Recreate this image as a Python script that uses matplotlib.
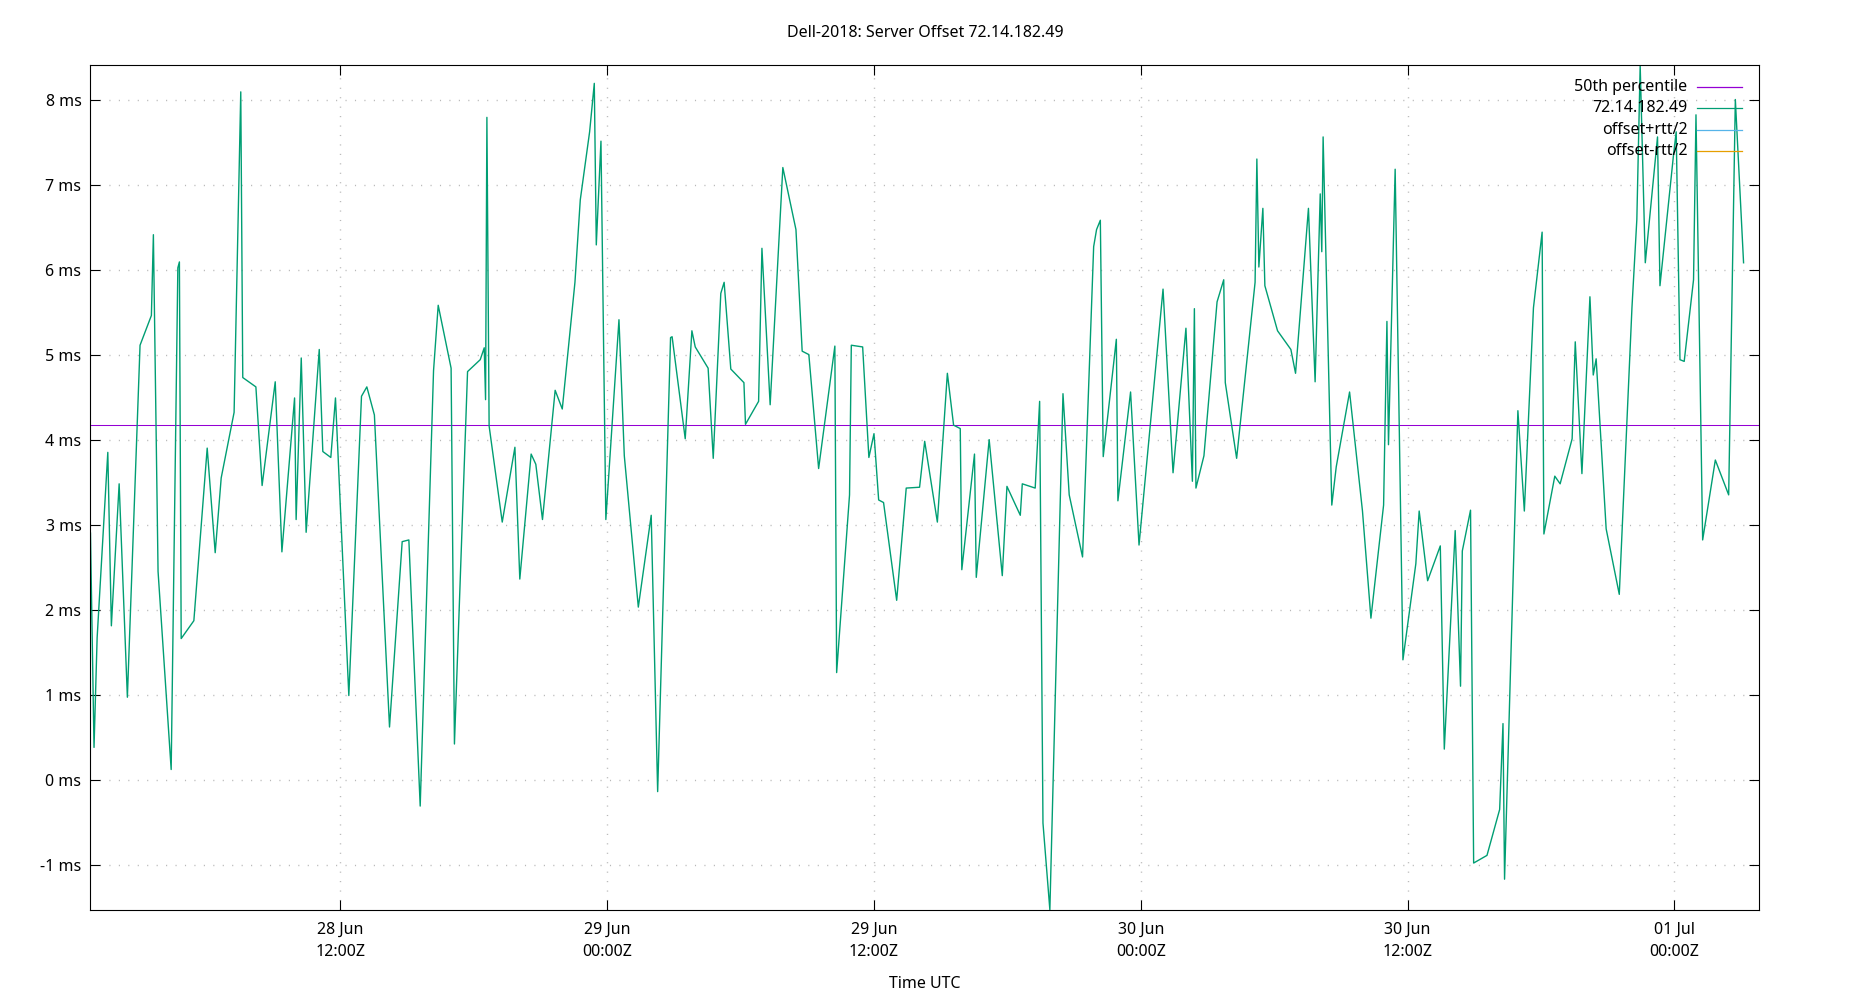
import matplotlib
matplotlib.use('Agg')
import matplotlib.pyplot as plt
import numpy as np
import pandas as pd

plt.rcParams['font.family'] = ['Noto Sans', 'DejaVu Sans']
plt.rcParams['font.size'] = 11.5

# hours after 28 Jun 00:00 UTC, offset in ms
hours = [
    0.76, 0.92, 1.06, 1.54, 1.70, 2.05, 2.42, 2.99, 3.50, 3.59, 3.80, 4.39, 4.69, 4.76,
    4.84, 5.41, 6.01, 6.37, 6.64, 7.22, 7.52, 7.61, 8.20, 8.48, 9.07, 9.37, 9.94, 10.01,
    10.24, 10.46, 11.05, 11.21, 11.57, 11.78, 12.38, 12.95, 13.19, 13.53,
    14.21, 14.78, 15.08, 15.59, 16.19, 16.40, 16.98, 17.13, 17.72, 18.29, 18.47, 18.53,
    18.59, 18.69, 19.28, 19.85, 20.07, 20.58, 20.79, 21.09, 21.66, 21.98, 22.55, 22.79,
    23.21, 23.42, 23.51, 23.72, 23.94, 24.53, 24.77, 25.40, 25.98, 26.27,
    26.85, 26.92, 27.51, 27.81, 27.96, 28.54, 28.77, 29.11, 29.26, 29.56, 30.15, 30.22,
    30.81, 30.96, 31.33, 31.90, 32.49, 32.77, 33.07, 33.51, 34.24, 34.32, 34.90, 34.98,
    35.49, 35.77, 36.00, 36.21, 36.43, 37.02, 37.45, 38.05, 38.28, 38.85, 39.30, 39.58,
    39.88, 39.95, 40.52, 40.60, 41.18, 41.77, 41.98, 42.58, 42.67, 43.25, 43.45, 43.60,
    43.91, 44.50, 44.78, 45.38, 45.88, 46.01, 46.18, 46.31, 46.90, 46.97, 47.54, 47.92,
    49.00, 49.45, 50.03, 50.32, 50.41, 50.48, 50.84, 51.43, 51.73, 51.80, 52.31,
    53.14, 53.22, 53.31, 53.49, 53.58, 54.15, 54.75, 54.96, 55.54, 55.84, 56.07, 56.14,
    56.20, 56.59, 56.79, 57.39, 57.97, 58.35, 58.92, 59.07, 59.14, 59.44, 59.79, 60.37,
    60.52, 60.90, 61.47, 61.65, 62.14, 62.38, 62.46, 62.83, 62.97, 63.57, 64.14, 64.29,
    64.36, 64.96, 65.25,
    65.66, 66.05, 66.13, 66.62, 66.86, 67.40, 67.54, 67.84, 68.20, 68.35, 68.48, 68.93,
    69.52, 70.09, 70.31, 70.46, 70.69, 71.24, 71.35, 71.96, 72.08, 72.25, 72.44, 72.86,
    72.97, 73.27, 73.84, 74.44, 74.74, 75.11,
]
offset_ms = [
    2.90, 0.38, 1.67, 3.85, 1.81, 3.48, 0.97, 5.11, 5.46, 6.41, 2.45, 0.12, 6.02, 6.09,
    1.66, 1.87, 3.90, 2.67, 3.55, 4.32, 8.09, 4.73, 4.62, 3.46, 4.68, 2.68, 4.49, 3.06,
    4.96, 2.91, 5.06, 3.86, 3.79, 4.49, 0.99, 4.51, 4.62, 4.29,
    0.62, 2.80, 2.82, -0.31, 4.81, 5.58, 4.84, 0.42, 4.80, 4.94, 5.08, 4.47,
    7.79, 4.16, 3.03, 3.91, 2.36, 3.83, 3.71, 3.06, 4.58, 4.36, 5.85, 6.82,
    7.62, 8.19, 6.29, 7.51, 3.06, 5.41, 3.81, 2.03, 3.11, -0.14,
    5.20, 5.21, 4.01, 5.28, 5.09, 4.84, 3.78, 5.72, 5.85, 4.83, 4.67, 4.18,
    4.45, 6.25, 4.41, 7.20, 6.47, 5.04, 5.00, 3.66, 5.10, 1.26, 3.35, 5.11,
    5.09, 3.79, 4.07, 3.29, 3.26, 2.11, 3.43, 3.44, 3.98, 3.03, 4.78, 4.17,
    4.13, 2.47, 3.83, 2.38, 4.00, 2.40, 3.45, 3.11, 3.48, 3.43, 4.45, -0.51,
    -1.53, 4.54, 3.35, 2.62, 6.27, 6.47, 6.58, 3.80, 5.18, 3.28, 4.56, 2.76,
    5.77, 3.61, 5.31, 3.51, 5.54, 3.43, 3.81, 5.62, 5.88, 4.67, 3.78,
    5.85, 7.30, 6.03, 6.72, 5.81, 5.28, 5.06, 4.78, 6.72, 4.68, 6.89, 6.21,
    7.56, 3.23, 3.68, 4.56, 3.16, 1.90, 3.23, 5.39, 3.94, 7.18, 1.41, 2.54,
    3.16, 2.34, 2.75, 0.36, 2.93, 1.10, 2.69, 3.17, -0.98, -0.89, -0.35, 0.66,
    -1.17, 4.34, 3.16,
    5.55, 6.44, 2.89, 3.57, 3.48, 4.01, 5.15, 3.60, 5.68, 4.76, 4.95, 2.95,
    2.18, 5.55, 6.59, 8.40, 6.08, 7.56, 5.81, 7.35, 7.62, 4.94, 4.92, 5.88,
    7.82, 2.82, 3.76, 3.35, 8.00, 6.08,
]
median_ms = 4.17
x_end_hours = 75.82
y_range = [-1.53, 8.40]
y_ticks = [-1, 0, 1, 2, 3, 4, 5, 6, 7, 8]
x_tick_hours = [12, 24, 36, 48, 60, 72]

base = pd.Timestamp('2023-06-28 00:00')
times = base + pd.to_timedelta(hours, unit='h')
tick_times = base + pd.to_timedelta(x_tick_hours, unit='h')

fig = plt.figure(figsize=(18.5, 10), dpi=100)
ax = fig.add_axes([0.0489, 0.0902, 0.9021, 0.8443])

ax.axhline(median_ms, color='#9400d3', lw=0.75)
ax.plot(times, offset_ms, color='#009e73', lw=1.0)

ax.set_xlim(times[0], base + pd.Timedelta(hours=x_end_hours))
ax.set_ylim(*y_range)

ax.set_yticks(y_ticks, [f'{v} ms' for v in y_ticks])
ax.set_xticks(tick_times, [t.strftime('%d %b\n%H:%MZ') for t in tick_times],
              linespacing=1.45)

ax.tick_params(axis='both', direction='in', length=7, width=0.8,
               top=True, right=True, labelsize=11.5)
ax.tick_params(axis='y', pad=6.5)
ax.tick_params(axis='x', pad=9)
ax.grid(True, color='#b8b8b8', lw=1.0, linestyle=(0, (0.8, 6)))
for s in ax.spines.values():
    s.set_linewidth(0.8)

# gnuplot-style key: right-aligned text, sample line to the right
key = [('50th percentile', '#9400d3'), ('72.14.182.49', '#009e73'),
       ('offset+rtt/2', '#56b4e9'), ('offset-rtt/2', '#e69f00')]
for i, (name, col) in enumerate(key):
    y = 0.975 - i * 0.0256
    ax.text(0.957, y, name, transform=ax.transAxes, ha='right', va='center')
    ax.plot([0.9627, 0.9896], [y, y], transform=ax.transAxes, color=col, lw=0.9)

fig.text(0.5, 1 - 33 / 1000, 'Dell-2018: Server Offset 72.14.182.49',
         ha='center', va='center')
fig.text(0.5, 1 - 984 / 1000, 'Time UTC', ha='center', va='center')

fig.savefig('out.png', dpi=100)
plt.close()
